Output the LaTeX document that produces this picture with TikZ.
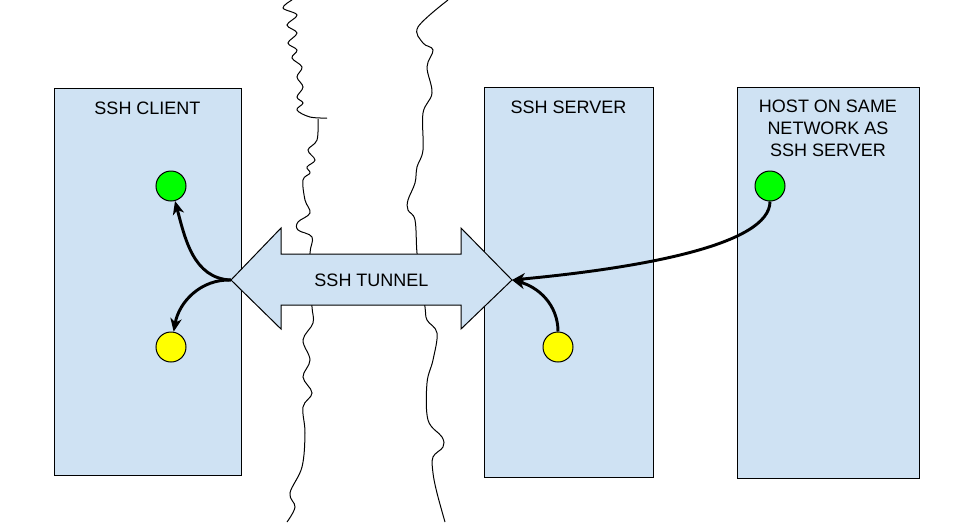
\documentclass[tikz,border=0pt]{standalone}
\usepackage{fontspec}
\setmainfont{Liberation Sans}
\usepackage{xcolor}
\definecolor{sshblue}{HTML}{CFE2F3}
\definecolor{sshgreen}{HTML}{00FF00}
\definecolor{sshyellow}{HTML}{FFFF00}
\usepackage{tikz}
\usetikzlibrary{arrows.meta}

\begin{document}
\begin{tikzpicture}[x=0.75pt,y=-0.75pt,>={Stealth[length=10pt,width=8.5pt,inset=3pt]}]
\tikzset{
 box/.style={draw=black,line width=0.75pt,fill=sshblue},
 lbl/.style={font=\fontsize{13.5}{16.5}\selectfont,align=center},
 dot/.style={circle,draw=black,line width=0.75pt,minimum size=22.5pt,inner sep=0pt},
 wave/.style={line width=0.75pt},
 a/.style={->,line width=2.2pt}
}
\useasboundingbox (0,0) rectangle (976,522);
% machines
\node[box,minimum width=140.25pt,minimum height=290.25pt] (client) at (147.5,281.5) {};
\node[box,minimum width=126.75pt,minimum height=292.5pt] (server) at (568.5,282) {};
\node[box,minimum width=136.5pt,minimum height=293.25pt] (host) at (828,282.5) {};
\node[lbl] (clientlbl) at (147.5,108) {SSH CLIENT};
\node[lbl] (serverlbl) at (568.5,107) {SSH SERVER};
\node[lbl] (hostlbl) at (828,128) {HOST ON SAME\\NETWORK AS\\SSH SERVER};
% network boundaries
\draw[wave] plot[smooth,tension=0.6] coordinates {(292,0) (283,8) (297,15) (287,25) (297,33) (288,43) (297,50) (292,58) (302,67) (297,77) (303,87) (297,97) (303,103) (297,110) (310,117) (327,118)};
\draw[wave] plot[smooth,tension=0.6] coordinates {(318,119) (317,140) (308,150) (315,160) (307,167) (310,173) (303,180) (305,200) (310,213) (298,222) (298,230) (312,237) (310,253) (311,280) (312,307) (313,323) (303,340) (310,360) (303,377) (312,393) (303,407) (305,433) (302,467) (290,493) (295,507) (287,522)};
\draw[wave] plot[smooth,tension=0.6] coordinates {(448,0) (418,27) (423,43) (433,50) (427,67) (432,93) (423,113) (423,150) (417,167) (415,183) (408,200) (408,210) (415,220) (417,253) (421,280) (425,307) (427,320) (437,333) (433,360) (427,383) (428,420) (442,437) (443,447) (433,457) (433,473) (437,493) (445,522)};
% tunnel
\coordinate (tl) at (231,280);
\coordinate (tr) at (512,280);
\draw[box] (tl) -- (281,228) -- (281,254) -- (461,254) -- (461,228) -- (tr)
 -- (461,329) -- (461,305) -- (281,305) -- (281,329) -- cycle;
\node[lbl] (tunnel) at (371.5,280) {SSH TUNNEL};
% end points
\node[dot,fill=sshgreen] (cg) at (171,186) {};
\node[dot,fill=sshyellow] (cy) at (171,347) {};
\node[dot,fill=sshyellow] (sy) at (558,347) {};
\node[dot,fill=sshgreen] (hg) at (770,186) {};
\draw[a] (tl) to[out=178,in=-75] (cg);
\draw[a] (tl) to[out=178,in=80] (cy);
\draw[a] (sy) to[out=90,in=-15] (tr);
\draw[a] (hg.south) .. controls (770,245) and (640,268) .. (tr);
\end{tikzpicture}
\end{document}
